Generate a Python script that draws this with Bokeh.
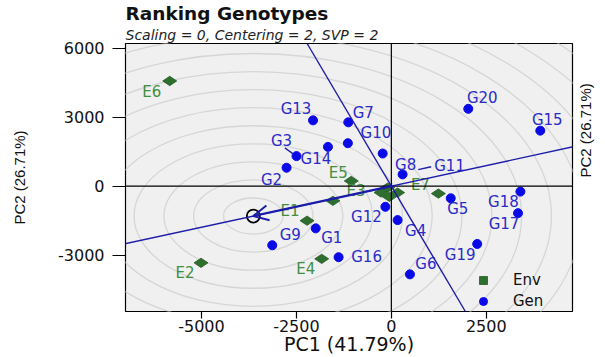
import math
from bokeh.plotting import figure
from bokeh.models import (Slope, Arrow, OpenHead, Span, Legend, LegendItem, Title,
                          LinearAxis, FixedTicker, ColumnDataSource, Range1d)
from bokeh.core.properties import value
from bokeh.embed import file_html
from bokeh.resources import INLINE

# ---------------- data ----------------
gen_names = ["G1", "G2", "G3", "G4", "G5", "G6", "G7", "G8", "G9", "G10",
             "G11", "G12", "G13", "G14", "G15", "G16", "G17", "G18", "G19", "G20"]
gen_pc1 = [-1991, -2759, -2497, 165, 1564, 490, -1134, -228, -3136, -1145,
           296, -157, -2062, -1669, 3922, -1389, 3335, 3398, 2261, 2026]
gen_pc2 = [-1836, 799, 1305, -1477, -527, -3836, 2773, 1417, -2570, 1866,
           510, -899, 2860, 1706, 2411, -3089, -1175, -238, -2514, 3361]

env_names = ["E1", "E2", "E3", "E4", "E5", "E6", "E7", "", "", "", ""]
env_pc1 = [-2219, -5012, -1538, -1834, -1056, -5835, 1239, -97, -270, -52, 165]
env_pc2 = [-1503, -3335, -639, -3162, 225, 4571, -324, -65, -281, -467, -281]

ideal_pc1 = -3634
ideal_pc2 = -1300

x_ticks = [-5000, -2500, 0, 2500]
x_tick_labels = ["-5000", "-2500", "0", "2500"]
y_ticks = [-3000, 0, 3000, 6000]
y_tick_labels = ["-3000", "0", "3000", "6000"]

title_text = "Ranking Genotypes"
subtitle_text = "Scaling = 0, Centering = 2, SVP = 2"
x_label = "PC1 (41.79%)"
y_label = "PC2 (26.71%)"

# ---------------- label placement (screen px, style only) ----------------
gen_dx = [16, -15, -15, 18, 7, 16, 15, 23, 18, 28, 47, -19, -17, -12, 7, 28, -14, -17, -17, 14]
gen_dy = [10, 12, -15, 11, 11, -10, -9, 11, -10, -10, -8, 10, -11, 12, -11, 0, 11, 10, 11, -11]
env_dx = [-17, -16, 23, -16, -13, -18, -18, 0, 0, 0, 0]
env_dy = [-10, 10, -10, 10, -8, 11, -9, 0, 0, 0, 0]

X0, X1 = -7000, 4770
Y0, Y1 = -5450, 6200
FW, FH = 449, 270
kx = (X1 - X0) / FW
ky = (Y1 - Y0) / FH

BLUE_LINE = "#1c1caa"
BLUE_PT = "#0a0ae6"
BLUE_TXT = "#2b2bc8"
GREEN_PT = "#2e6e2e"
GREEN_TXT = "#3f8f3f"
FONT = "DejaVu Sans"

p = figure(width=605, height=357, output_backend="svg", toolbar_location=None,
           x_range=Range1d(X0, X1), y_range=Range1d(Y0, Y1),
           min_border_left=125, min_border_right=31, min_border_top=0, min_border_bottom=0,
           background_fill_color="#f0f0f0", border_fill_color="white")
p.outline_line_color = "black"
p.outline_line_width = 1.2
p.xgrid.visible = False
p.ygrid.visible = False

# titles (first added is nearest the frame)
p.add_layout(Title(text=subtitle_text, text_font=FONT, text_font_style="italic",
                   text_font_size="14px", text_color="#222222", align="left",
                   standoff=2), "above")
p.add_layout(Title(text=title_text, text_font=FONT, text_font_style="bold",
                   text_font_size="18.5px", text_color="#111111", align="left",
                   standoff=0), "above")

# axes
for ax, ticks, labels in ((p.xaxis[0], x_ticks, x_tick_labels), (p.yaxis[0], y_ticks, y_tick_labels)):
    ax.ticker = FixedTicker(ticks=ticks)
    ax.major_label_overrides = {t: l for t, l in zip(ticks, labels)}
    ax.axis_line_color = None
    ax.major_tick_line_color = "black"
    ax.major_tick_line_width = 1.2
    ax.major_tick_in = 0
    ax.minor_tick_line_color = None
    ax.major_label_text_font = FONT
    ax.major_label_text_font_size = "16px"
    ax.major_label_text_color = "#111111"
    ax.axis_label_text_color = "#111111"
    ax.axis_label_text_font_style = "normal"

p.xaxis[0].major_tick_out = 7
p.xaxis[0].major_label_standoff = 1
p.xaxis[0].axis_label = x_label
p.xaxis[0].axis_label_text_font = FONT
p.xaxis[0].axis_label_text_font_size = "19px"
p.xaxis[0].axis_label_standoff = -2

p.yaxis[0].major_tick_out = 13
p.yaxis[0].major_label_standoff = 8
p.yaxis[0].axis_label = y_label
p.yaxis[0].axis_label_text_font = "Liberation Sans"
p.yaxis[0].axis_label_text_font_size = "15px"
p.yaxis[0].axis_label_standoff = 27

rax = LinearAxis(ticker=FixedTicker(ticks=[]), axis_label=y_label,
                 axis_line_color=None, major_tick_line_color=None, minor_tick_line_color=None,
                 major_label_text_font_size="0px",
                 axis_label_text_font="Liberation Sans", axis_label_text_font_size="15px",
                 axis_label_text_color="#111111", axis_label_text_font_style="normal",
                 axis_label_standoff=13)
try:
    rax.axis_label_orientation = math.pi / 2
except Exception:
    pass
p.add_layout(rax, "right")

# concentric rings about the ideal genotype
ring_step = 785
radii = [ring_step * k for k in range(1, 18)]
p.ellipse(x=[ideal_pc1] * len(radii), y=[ideal_pc2] * len(radii),
          width=[2 * r for r in radii], height=[2 * r for r in radii],
          fill_color=None, line_color="#d6d6d6", line_width=1.3)

# zero lines
p.add_layout(Span(location=0, dimension="width", line_color="black", line_width=1.2))
p.add_layout(Span(location=0, dimension="height", line_color="black", line_width=1.2))

# AEC abscissa and ordinate
slope = ideal_pc2 / ideal_pc1
p.add_layout(Slope(gradient=slope, y_intercept=0, line_color=BLUE_LINE, line_width=1.4))
p.add_layout(Slope(gradient=-1.0 / slope, y_intercept=0, line_color=BLUE_LINE, line_width=1.4))
p.add_layout(Arrow(end=OpenHead(size=15, line_color=BLUE_LINE, line_width=2),
                   x_start=0, y_start=0, x_end=ideal_pc1, y_end=ideal_pc2,
                   line_color=BLUE_LINE, line_width=2.2))

# leader lines (G3, G11)
lead = {"G3": (-11.7, -8.3, -1.7, -1.0), "G11": (15.7, -4.7, 28.7, -7.7)}
lx0, ly0, lx1, ly1 = [], [], [], []
for nm, (a, b, c, d) in lead.items():
    i = gen_names.index(nm)
    lx0.append(gen_pc1[i] + a * kx); ly0.append(gen_pc2[i] - b * ky)
    lx1.append(gen_pc1[i] + c * kx); ly1.append(gen_pc2[i] - d * ky)
p.segment(x0=lx0, y0=ly0, x1=lx1, y1=ly1, line_color=BLUE_LINE, line_width=1.3)

gsrc = ColumnDataSource(dict(x=gen_pc1, y=gen_pc2, name=gen_names, dx=gen_dx, dy=gen_dy))
esrc = ColumnDataSource(dict(x=env_pc1, y=env_pc2, name=env_names, dx=env_dx, dy=env_dy))

env_r = p.scatter("x", "y", source=esrc, marker="diamond", angle=math.pi / 2, size=14,
                  fill_color=GREEN_PT, line_color="#245a24", line_width=0.8)
gen_r = p.scatter("x", "y", source=gsrc, marker="circle", size=9,
                  fill_color=BLUE_PT, line_color=BLUE_PT)

p.text("x", "y", text="name", source=gsrc, x_offset="dx", y_offset="dy",
       text_font=value(FONT), text_font_size="15px", text_color=BLUE_TXT,
       text_align="center", text_baseline="middle")
p.text("x", "y", text="name", source=esrc, x_offset="dx", y_offset="dy",
       text_font=value(FONT), text_font_size="15px", text_color=GREEN_TXT,
       text_align="center", text_baseline="middle")

# ideal genotype marker
p.scatter(x=[ideal_pc1], y=[ideal_pc2], marker="circle", size=13, fill_color=None,
          line_color="black", line_width=1.8)

# legend-only glyph (NaN position, never drawn inside the frame)
leg_env = p.scatter(x=[float("nan")], y=[float("nan")], marker="square", angle=math.pi / 4,
                    size=9, fill_color=GREEN_PT, line_color="#245a24", line_width=0.8)
legend = Legend(items=[LegendItem(label="Env", renderers=[leg_env]),
                       LegendItem(label="Gen", renderers=[gen_r])],
                location=(348, 0), background_fill_alpha=0, border_line_alpha=0,
                glyph_width=20, glyph_height=20, label_height=20, spacing=1,
                padding=0, margin=0, label_standoff=20,
                label_text_font=FONT, label_text_font_size="15px", label_text_color="#111111")
p.add_layout(legend, "center")

open("out.html", "w").write(file_html(p, INLINE))
